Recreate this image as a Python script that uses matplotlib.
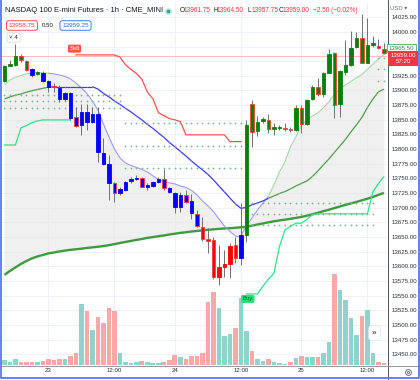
import numpy as np
import matplotlib
matplotlib.use("Agg")
import matplotlib.pyplot as plt
from matplotlib.collections import LineCollection
from matplotlib.lines import Line2D
from matplotlib.transforms import blended_transform_factory

plt.rcParams['font.family'] = ['Liberation Sans', 'DejaVu Sans']

# NQ 1h bars (CME_MINI), evening of the 22nd to midday of the 25th
opens = [13917, 13942.5, 13943.5, 13959, 13951, 13926.5, 13927.75, 13916.25, 13906.5, 13907.75,
         13885, 13885, 13852.5, 13854.25, 13841.25, 13847, 13847, 13795.75, 13774.5, 13741.5,
         13741.5, 13725.75, 13730.25, 13746.25, 13748.5, 13751.25, 13736, 13737.75, 13744.5, 13749,
         13726.25, 13700.75, 13701.75, 13721.75, 13690.5, 13689.25, 13667.75, 13647.25, 13645, 13582.25,
         13599.5, 13604, 13635.75, 13613.5, 13653.5, 13876.5, 13831.5, 13848, 13849.75, 13834.5,
         13836, 13836.5, 13835, 13832.75, 13870.75, 13843, 13885, 13905.5, 13894, 13930.5,
         13963.5, 13876.5, 13931.75, 13943, 13973.75, 13989, 13947.5, 13977.25, 13976, 13971]
highs = [13944, 13952, 13979, 13962, 13952.25, 13938, 13934, 13933.5, 13918, 13912.25,
         13909.5, 13898, 13898, 13872.5, 13876.5, 13876.5, 13872.5, 13872.5, 13818.5, 13790,
         13744.5, 13736, 13746.25, 13753, 13755.75, 13753, 13741.5, 13746.25, 13753, 13765.5,
         13736, 13727.5, 13727.5, 13730.25, 13723, 13696, 13684.75, 13664.75, 13650.5, 13636.5,
         13627.75, 13639.25, 13650.5, 13707.5, 13849.75, 13884, 13856.5, 13854.25, 13860, 13844,
         13841.25, 13844, 13838.25, 13875.25, 13875.25, 13885, 13909.5, 13922, 13932.25, 13970.5,
         13965.25, 13935, 13986.25, 14002.25, 14000.5, 14030, 14023.25, 13993, 13987.5, 13980.5]
lows = [13915, 13941, 13942, 13949.25, 13934, 13923.75, 13926, 13915.25, 13898, 13898,
        13881, 13882.75, 13849.75, 13838.25, 13824, 13832.75, 13844, 13778.5, 13773, 13713.25,
        13710.25, 13721.75, 13729, 13742.75, 13747.25, 13734.75, 13730.25, 13736, 13742.75, 13730.25,
        13724.5, 13690.5, 13693.25, 13707.5, 13680.25, 13666.5, 13643.75, 13622, 13577.75, 13568,
        13582.25, 13579.5, 13605, 13602.25, 13642, 13804.25, 13822.5, 13844, 13827, 13824,
        13832.75, 13831.5, 13829.75, 13831.5, 13827, 13841.25, 13884, 13890.75, 13889.5, 13929.5,
        13852.5, 13854.25, 13926.5, 13942, 13972, 13946.5, 13946.5, 13973.75, 13970.5, 13962.5]
closes = [13942, 13944.75, 13958, 13952.25, 13935, 13936.25, 13932.25, 13930.5, 13916.25, 13905.5,
          13905, 13895.25, 13895.25, 13840, 13862.75, 13862.75, 13859.5, 13860, 13794, 13774.5,
          13724.5, 13732, 13744.5, 13748.5, 13751.25, 13736, 13738.75, 13744.5, 13749, 13733,
          13733, 13725.75, 13721.75, 13710.25, 13711.5, 13668.75, 13646, 13643.75, 13582.25, 13599.5,
          13604, 13635.25, 13613.5, 13653.5, 13841.25, 13829.75, 13847, 13851, 13834.5, 13838.25,
          13838.25, 13834.5, 13832.75, 13870.75, 13842.25, 13884, 13905.5, 13894, 13930.5, 13961.75,
          13876, 13933.5, 13943, 13973.25, 13989, 13947.5, 13977.75, 13980.5, 13973.25, 13964.75]
# bar colouring of the study: g = long, b = weak, r = short
bar_state = "gggggbg" + "b" * 29 + "r" * 7 + "b" + "g" * 26

volume_k = [5.0, 3.0, 5.7, 2.7, 3.0, 2.7, 2.7, 3.7, 6.0, 5.3, 5.7, 6.0, 8.7, 12.0, 60.7, 54.0,
            34.7, 48.3, 42.3, 56.7, 54.0, 12.0, 2.7, 2.3, 3.0, 3.7, 3.0, 2.3, 2.0, 3.0, 5.3, 10.0,
            8.0, 6.0, 9.0, 8.7, 11.7, 63.0, 73.3, 57.0, 29.0, 30.7, 37.3, 67.0, 34.0, 14.0, 6.0,
            3.7, 6.0, 3.0, 2.0, 1.3, 3.0, 6.7, 8.7, 8.0, 8.0, 8.0, 12.0, 23.0, 91.0, 75.0, 65.3,
            47.0, 29.7, 49.0, 54.7, 12.0, 3.0, 2.0]
volume_up = "TTTRRRTRRRRTRRTRTRRRRTTTTRTTTRRRTRRRRRRTTTRTTRTTRTTTRTRTTRTTRTTTTRTTRR"

fast_line = [13909.5, 13918, 13922.25, 13925.75, 13928.25, 13930, 13930.5, 13930.25, 13929.5, 13928.25,
             13926.5, 13924, 13919.75, 13913, 13904.25, 13895, 13882, 13866.75, 13843, 13820.75,
             13800.25, 13785, 13776.25, 13772, 13768.75, 13765.25, 13761, 13754.25, 13748.25, 13744.75,
             13742.25, 13740.5, 13737, 13734.5, 13729.5, 13721.75, 13711.5, 13703, 13693.5, 13680.75,
             13668.75, 13659.5, 13651.75, 13651.75, 13668.75, 13682.5, 13696, 13708, 13719.25, 13738.75,
             13761, 13778, 13803.5, 13820.75, 13841.25, 13849.75, 13856.5, 13861.75, 13870.25, 13880.5,
             13894, 13902.5, 13909.5, 13915.5, 13921.5, 13927.5, 13936, 13945, 13953.5, 13962]
slow_line = [13885.5, 13889, 13892, 13894, 13897, 13899.5, 13901.75, 13903.75, 13905.5, 13906.5,
             13906.5, 13906.5, 13906.5, 13906.5, 13906.5, 13906.5, 13906.5, 13902.5, 13895, 13889,
             13882.25, 13876.25, 13869.5, 13863.5, 13856.5, 13849.75, 13842, 13835.25, 13827.5, 13820,
             13811.25, 13803.75, 13796, 13788.25, 13779.75, 13772, 13764.5, 13756.75, 13747.5, 13737,
             13727, 13716.5, 13706.5, 13698.75, 13700.5, 13704.75, 13708, 13711.5, 13716, 13720,
             13724.25, 13727.5, 13732, 13737, 13741.5, 13745.5, 13753.25, 13762.75, 13773, 13783.25,
             13794.25, 13805.5, 13816.5, 13829.25, 13841.25, 13854, 13871, 13885.5, 13897.5, 13902.5]
long_ma = [13585.25, 13592, 13598, 13604, 13609, 13613.5, 13616.75, 13619.25, 13622, 13623.5,
           13625.25, 13626.75, 13628, 13629, 13630, 13631.25, 13632.25, 13633.25, 13634.5, 13636,
           13637.75, 13639.75, 13641.5, 13643.25, 13645, 13646.5, 13648.5, 13649.75, 13651.25, 13652.5,
           13654.25, 13655.5, 13657, 13658, 13659.25, 13660.25, 13661.25, 13662.25, 13663, 13663.75,
           13664.5, 13665, 13665.75, 13666.5, 13667.5, 13669.25, 13671.25, 13673, 13675, 13676.75,
           13678.25, 13679.5, 13681, 13682.5, 13684.25, 13686.25, 13688.75, 13691.25, 13694, 13696.5,
           13699.25, 13702, 13704.75, 13707.25, 13709.75, 13712.5, 13715.25, 13718.25, 13721.75, 13725.25]
trend = "u" * 9 + "d" * 40 + "u" * 21

nan = np.nan
short_stop = [nan] * 13 + [13960.75] * 8 + [13957, 13944, 13936, 13929, 13919, 13897, 13886,
              13862, 13857, 13852, 13850, 13846.75] + [13824.25] * 8 + [13812.75] * 3 + [nan] * 26
long_stop = [13807, 13807, 13807, 13836, 13840, 13845, 13848] + [13849.75] * 6 + [nan] * 31 + \
            [13552.75, 13552.75, 13552.75, 13566, 13578, 13588, 13633.5, 13662, 13668, 13673.5,
             13673.5, 13680, 13688] + [13689.5] * 10 + [13727, 13741, 13753]

level_start = [0, 22, 45, 68]
level_end = [21, 43, 67, 69]
level_prices = [[13892.5, 13881.5, 13870.25], [13845, 13806, 13768.25],
                [13707.5, 13689.25, 13670.5], [13955, 13936.25, 13916.75]]

day_ticks = [8, 20, 31, 43, 54, 66]
day_labels = ["23", "12:00", "24", "12:00", "25", "12:00"]
price_ticks = np.arange(13450, 14026, 25)
hidden_ticks = [13950, 13975]   # covered by the last-price labels
last_price = 13959.0

W, H = 420, 380


def fxy(px, py):
    return px / W, 1 - py / H


fig = plt.figure(figsize=(4.2, 3.8), dpi=100, facecolor="white")
ax = fig.add_axes([2 / W, 1 - 365 / H, 385 / W, 363 / H])
vax = ax.twinx()
ax.set_zorder(vax.get_zorder() + 1)
ax.patch.set_visible(False)
vax.patch.set_visible(False)

x = np.arange(len(opens))
o, h, l, c = map(np.array, (opens, highs, lows, closes))
ax.set_xlim(-0.44, 69.56)
ax.set_ylim(13431.5, 14051)

# grid (behind the volume)
for t in day_ticks:
    vax.axvline(t, color="#eef1f7", lw=0.8, zorder=0)
hline_tr = blended_transform_factory(vax.transAxes, ax.transData)
for p in price_ticks:
    vax.add_line(Line2D([0, 1], [p, p], transform=hline_tr, color="#eef1f7", lw=0.8, zorder=0))

# volume
vcol = ["#92d2cc" if u == "T" else "#f7a9a7" for u in volume_up]
vax.bar(x, volume_k, width=0.88, color=vcol, zorder=1)
vax.set_ylim(0, max(volume_k) * 363 / 91)
vax.set_yticks([])

# fill and averages
ax.fill_between(x, fast_line, long_ma, color="#e6e6e6", alpha=0.6, lw=0, zorder=1)
ax.plot(x, long_ma, color="#3f9b3f", lw=1.7, zorder=2, solid_capstyle="butt")


def trend_line(vals, up_col, dn_col, lw):
    pts = np.column_stack([x, vals])
    segs = np.stack([pts[:-1], pts[1:]], axis=1)
    cols = [up_col if trend[i + 1] == "u" else dn_col for i in range(len(segs))]
    ax.add_collection(LineCollection(segs, colors=cols, linewidths=lw, zorder=2.5))


trend_line(fast_line, "#9fd6a3", "#9a9af5", 0.8)
trend_line(slow_line, "#4f9e4f", "#3c3cee", 0.9)

ax.plot(x, short_stop, color="#ff5252", lw=0.9, zorder=3)
ax.plot(x, long_stop, color="#2fe38a", lw=0.9, zorder=3)

for s, e, lv in zip(level_start, level_end, level_prices):
    xs = np.arange(s, e + 1)
    for p in lv:
        ax.plot(xs, [p] * len(xs), ls="none", marker="+", ms=2.0, mew=0.55,
                color="#7db894", zorder=3)

ax.axhline(last_price, color="#f9b3b3", lw=0.6, zorder=2)

# candles
state_col = {"g": "#0b7f0b", "b": "#0000ff", "r": "#ff0000"}
face = [state_col[s] for s in bar_state]
edge = ["#ff3b3b" if cc < oo else fc for oo, cc, fc in zip(o, c, face)]
ax.vlines(x, l, h, color="#707070", lw=0.7, zorder=4)
ax.bar(x, np.maximum(np.abs(c - o), 0.8), bottom=np.minimum(o, c), width=0.66,
       color=face, edgecolor=edge, linewidth=0.6, zorder=5)

# signal labels
first_short = int(np.where(~np.isnan(short_stop))[0][0])
ax.annotate("Sell", xy=(first_short, short_stop[first_short]), xytext=(-1, 4.5),
            textcoords="offset points", ha="center", va="center", fontsize=4.3,
            color="white", zorder=7,
            bbox=dict(boxstyle="round,pad=0.25", fc="#ff5252", ec="none"))
first_long = 44
ax.annotate("Buy", xy=(first_long, long_stop[first_long]), xytext=(1, -3.6),
            textcoords="offset points", ha="center", va="center", fontsize=4.3,
            color="#0d5c2c", zorder=7,
            bbox=dict(boxstyle="round,pad=0.25", fc="#22e07a", ec="none"))

# axes
ax.yaxis.tick_right()
ax.set_yticks(price_ticks)
ax.set_yticklabels(["" if p in hidden_ticks else f"{p:.2f}" for p in price_ticks])
ax.tick_params(axis="y", length=0, pad=3.5, labelsize=4.4, colors="#2a2e39")
ax.set_xticks(day_ticks)
ax.set_xticklabels(day_labels)
ax.tick_params(axis="x", length=0, pad=2.5, labelsize=4.4, colors="#2a2e39")
for a in (ax, vax):
    for sp in a.spines.values():
        sp.set_visible(False)

# pane separators and frame
fig.add_artist(Line2D([387.5 / W] * 2, [0, 1], color="#50535e", lw=0.7))
fig.add_artist(Line2D([2 / W, 418 / W], [1 - 365.5 / H] * 2, color="#9598a1", lw=0.7))
fig.add_artist(Line2D([1.2 / W, 1.2 / W, 418.6 / W, 418.6 / W],
                      [1, 1 - 377.6 / H, 1 - 377.6 / H, 1], color="#5b86f0", lw=1.4))

# header
fig.text(*fxy(5, 10), "NASDAQ 100 E-mini Futures · 1h · CME_MINI", fontsize=5.5,
         color="#131722", va="center")
fig.add_artist(Line2D([167.5 / W], [1 - 10.5 / H], marker="o", ms=5.5, mfc="#d3f0e9",
                      mec="none"))
fig.add_artist(Line2D([167.5 / W], [1 - 10.5 / H], marker="o", ms=2.8, mfc="#22ab94",
                      mec="none"))
ohlc_pos = [(180, "O", "13961.75"), (213, "H", "13964.50"), (247.5, "L", "13957.75"),
            (279, "C", "13959.00")]
for px, lab, val in ohlc_pos:
    fig.text(*fxy(px, 10), lab, fontsize=4.7, color="#131722", va="center")
    fig.text(*fxy(px + 3.8, 10), val, fontsize=4.7, color="#f23645", va="center")
fig.text(*fxy(313, 10), "\u22122.50 (\u22120.02%)", fontsize=4.7, color="#f23645", va="center")

fig.text(*fxy(22, 25.5), "13958.75", fontsize=4.6, color="#f23645", ha="center", va="center",
         bbox=dict(boxstyle="round,pad=0.35", fc="white", ec="#f23645", lw=0.6))
fig.text(*fxy(47.5, 25.5), "0.50", fontsize=4.4, color="#131722", ha="center", va="center")
fig.text(*fxy(75.5, 25.5), "13959.25", fontsize=4.6, color="#2962ff", ha="center", va="center",
         bbox=dict(boxstyle="round,pad=0.35", fc="white", ec="#2962ff", lw=0.6))
fig.text(*fxy(13.5, 37.5), "\u02c5 4", fontsize=4.4, color="#131722", ha="center", va="center",
         bbox=dict(boxstyle="round,pad=0.35", fc="white", ec="#d1d4dc", lw=0.5))

# price scale labels
fig.text(*fxy(399, 8), "USD \u25be", fontsize=4.2, color="#6a6d78", ha="center", va="center")
fig.text(*fxy(401.5, 48), "13965.50", fontsize=4.4, color="#1e8e3e", ha="center", va="center",
         bbox=dict(boxstyle="square,pad=0.3", fc="white", ec="#4caf50", lw=0.6))
fig.text(*fxy(403, 58.5), "13959.00\n57:20", fontsize=4.4, color="white", ha="center",
         va="center", linespacing=1.15,
         bbox=dict(boxstyle="square,pad=0.3", fc="#f23645", ec="none"))

# scroll button and settings icon
fig.text(*fxy(374.5, 333), "\u00bb", fontsize=6, color="#131722", ha="center", va="center",
         bbox=dict(boxstyle="round,pad=0.45", fc="white", ec="#e0e3eb", lw=0.5))
fig.add_artist(Line2D([408 / W], [1 - 371.5 / H], marker="o", ms=4.2, mfc="none",
                      mec="#6a6d78", mew=0.7))
fig.add_artist(Line2D([408 / W], [1 - 371.5 / H], marker="o", ms=1.5, mfc="none",
                      mec="#6a6d78", mew=0.6))

fig.savefig("out.png", dpi=100, facecolor="white")
